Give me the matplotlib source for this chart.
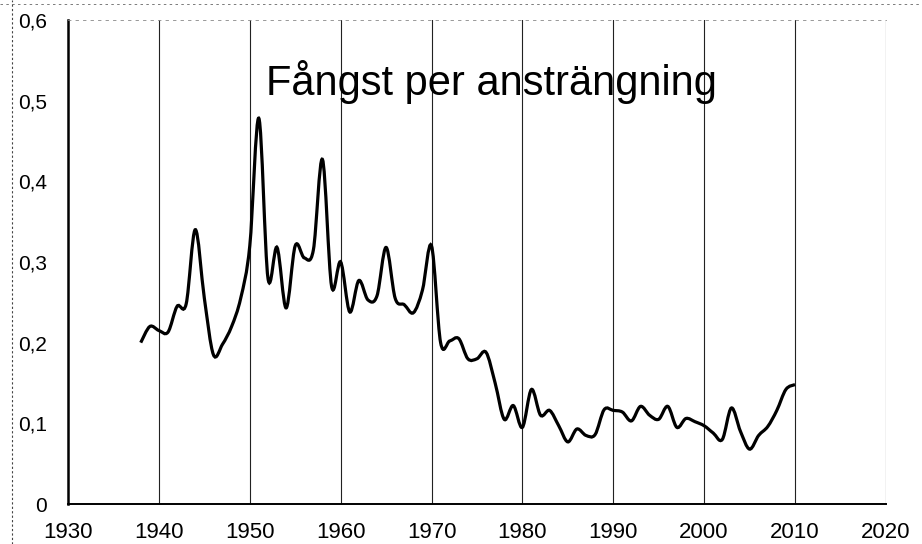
import numpy as np
import matplotlib
matplotlib.use('Agg')
import matplotlib.pyplot as plt
from matplotlib.path import Path
from matplotlib.patches import PathPatch
from matplotlib.lines import Line2D

plt.rcParams['font.family'] = ['Liberation Sans', 'DejaVu Sans']

# fångst per ansträngning, ett värde per år
years = np.arange(1938, 2011)
cpue = [0.200, 0.220, 0.215, 0.213, 0.245, 0.248, 0.340, 0.255, 0.185, 0.198,
        0.220, 0.255, 0.320, 0.478, 0.280, 0.318, 0.243, 0.320, 0.305, 0.315,
        0.427, 0.270, 0.300, 0.238, 0.277, 0.253, 0.258, 0.318, 0.255, 0.247,
        0.237, 0.265, 0.320, 0.200, 0.202, 0.205, 0.180, 0.180, 0.188, 0.150,
        0.105, 0.122, 0.095, 0.142, 0.110, 0.116, 0.097, 0.077, 0.093, 0.085,
        0.086, 0.117, 0.116, 0.114, 0.103, 0.121, 0.110, 0.105, 0.121, 0.095,
        0.106, 0.102, 0.097, 0.088, 0.080, 0.119, 0.090, 0.068, 0.085, 0.096,
        0.116, 0.142, 0.148]

xticks = list(range(1930, 2021, 10))
yticks = [0, 0.1, 0.2, 0.3, 0.4, 0.5, 0.6]
ylabels = ['0', '0,1', '0,2', '0,3', '0,4', '0,5', '0,6']
title = 'Fångst per ansträngning'


def smooth_path(x, y):
    # utjämnad linje som i Excel (Catmull-Rom som Bezier-kurvor)
    pts = np.column_stack([x, y]).astype(float)
    p = np.vstack([pts[0], pts, pts[-1]])
    verts = [pts[0]]
    codes = [Path.MOVETO]
    for i in range(1, len(p) - 2):
        c1 = p[i] + (p[i + 1] - p[i - 1]) / 6
        c2 = p[i + 1] - (p[i + 2] - p[i]) / 6
        verts += [c1, c2, p[i + 1]]
        codes += [Path.CURVE4] * 3
    return Path(verts, codes)


fig = plt.figure(figsize=(9.22, 5.44), dpi=100)
ax = fig.add_axes([0.0738, 0.0735, 0.887, 0.89])

ax.set_xlim(1930, 2020)
ax.set_ylim(0, 0.6)

for yr in xticks[1:]:
    ax.axvline(yr, color='#222222', lw=0.8, zorder=1)

ax.add_patch(PathPatch(smooth_path(years, cpue), facecolor='none',
                       edgecolor='black', lw=2.3, zorder=3))

ax.set_xticks(xticks)
ax.set_yticks(yticks)
ax.set_yticklabels(ylabels)
ax.tick_params(length=0)
ax.tick_params(axis='y', pad=15, labelsize=15)
ax.tick_params(axis='x', pad=13, labelsize=16)

ax.spines['left'].set_linewidth(1.8)
ax.spines['bottom'].set_linewidth(1.4)
ax.spines['right'].set_visible(False)
ax.spines['top'].set_linewidth(0.6)
ax.spines['top'].set_linestyle((0, (3, 6)))
ax.spines['top'].set_color('#888888')

ax.text(0.518, 0.845, title, transform=ax.transAxes, fontsize=30,
        ha='center', va='baseline')

# yttre ram (skannad)
fig.add_artist(Line2D([0.013, 0.013], [0, 1], color='#444444', lw=0.8,
                      ls=(0, (2, 2)), transform=fig.transFigure))
fig.add_artist(Line2D([0.0, 1.0], [0.993, 0.993], color='#666666', lw=0.6,
                      ls=(0, (3, 4)), transform=fig.transFigure))

fig.savefig('out.png', dpi=100)
